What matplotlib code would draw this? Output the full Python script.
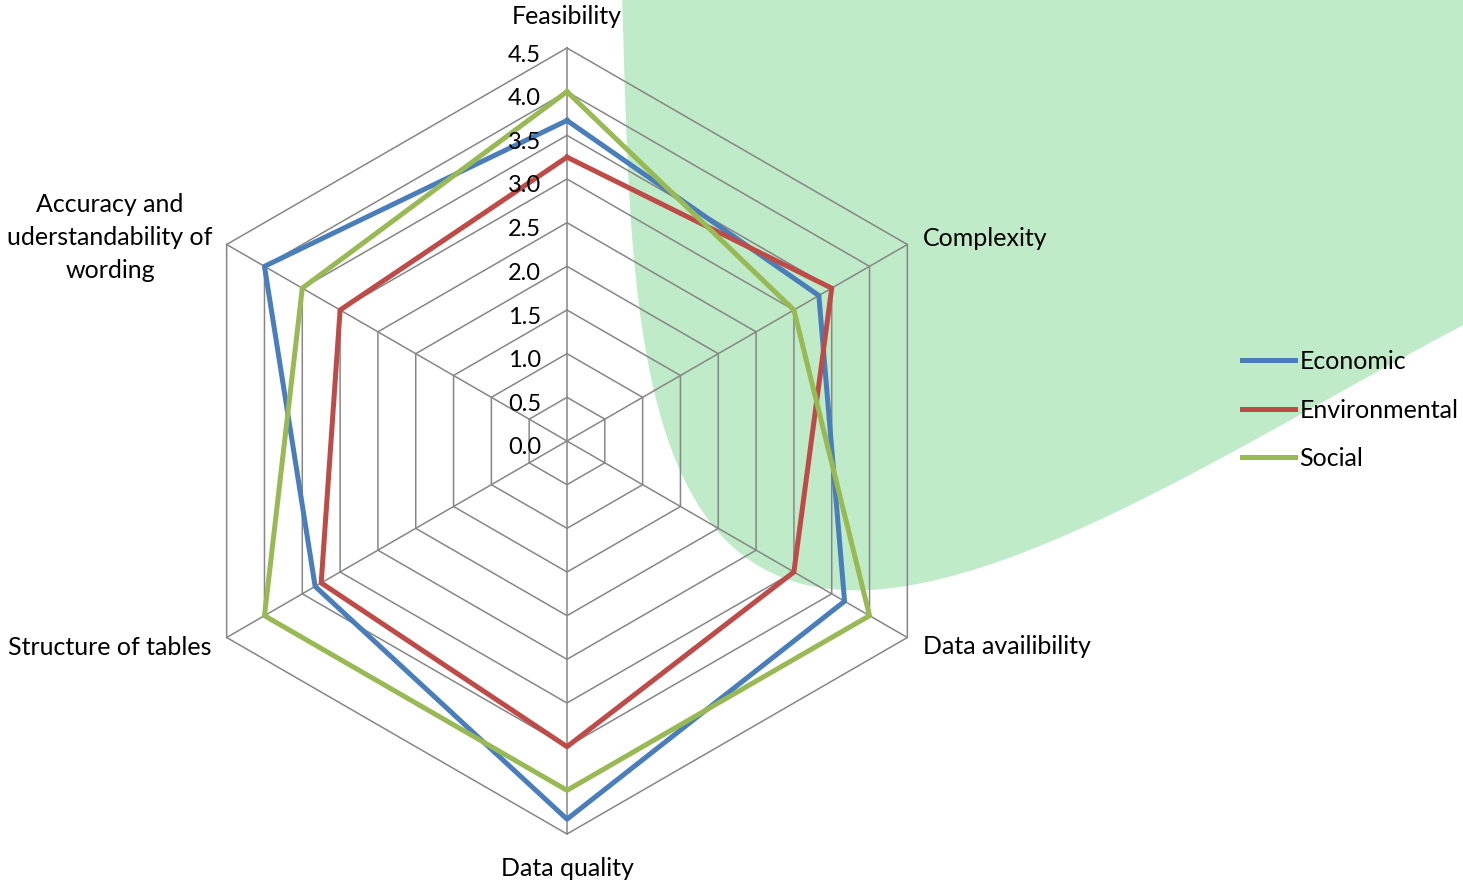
import numpy as np
import matplotlib
matplotlib.use("Agg")
from matplotlib import pyplot as plt
from matplotlib.patches import Polygon
from matplotlib.transforms import IdentityTransform, ScaledTranslation

plt.rcParams['font.family'] = ['Lato', 'DejaVu Sans']

categories = ['Feasibility', 'Complexity', 'Data availibility', 'Data quality',
              'Structure of tables', 'Accuracy and\nuderstandability of\nwording']
economic = [3.67, 3.33, 3.67, 4.33, 3.33, 4.0]
environmental = [3.25, 3.5, 3.0, 3.5, 3.25, 3.0]
social = [4.0, 3.0, 4.0, 4.0, 4.0, 3.5]
ring_values = [0.0, 0.5, 1.0, 1.5, 2.0, 2.5, 3.0, 3.5, 4.0, 4.5]
series_names = ['Economic', 'Environmental', 'Social']
series_colors = ['#4a7ebb', '#be4b48', '#98b954']

W, H = 1463, 886
fig = plt.figure(figsize=(W / 100, H / 100), dpi=100)

# green backdrop blob in the upper right: rough outline (pixels from top-left),
# smoothed with a quartic in a frame tilted along the blob's corner
outline = np.array([(622, 0), (624, 100), (630, 200), (640, 300), (658, 400), (674, 450),
                    (703, 500), (720, 533), (743, 570), (770, 587), (803, 593), (850, 585),
                    (950, 567), (1050, 535), (1150, 492), (1250, 446), (1300, 423),
                    (1400, 363), (1463, 318)], float)
c, s = np.cos(np.radians(30.7)), np.sin(np.radians(30.7))
ot = c * outline[:, 0] + s * outline[:, 1]
os_ = s * outline[:, 0] - c * outline[:, 1]
coef = np.polyfit(ot, os_, 4)
tt = np.linspace(515, 1450, 300)
ss = np.polyval(coef, tt)
bx = c * tt + s * ss
by = s * tt - c * ss
edge = np.column_stack([bx, H - by])
edge = np.vstack([edge, [(1700, H - 250), (1700, H + 200), (560, H + 200)]])
fig.patches.append(Polygon(edge, closed=True, transform=IdentityTransform(),
                           facecolor='#bfebc9', edgecolor='none', zorder=-1))

ax = fig.add_axes([174 / W, 52 / H, 786 / W, 786 / H], projection='polar')
ax.set_theta_zero_location('N')
ax.set_theta_direction(-1)
ax.set_ylim(0, 4.5)
ax.grid(False)
ax.set_xticks([])
ax.set_yticks([])
ax.spines['polar'].set_visible(False)
ax.patch.set_alpha(0)

n = len(categories)
theta = np.linspace(0, 2 * np.pi, n, endpoint=False)
closed = np.append(theta, theta[0])

# hexagon rings and spokes
for r in ring_values[1:]:
    ax.plot(closed, [r] * (n + 1), color='#868686', lw=1.1, clip_on=False, zorder=1)
for t in theta:
    ax.plot([t, t], [0, ring_values[-1]], color='#868686', lw=1.1, clip_on=False, zorder=1)

lines = []
for vals, name, col in zip([economic, environmental, social], series_names, series_colors):
    ln, = ax.plot(closed, vals + vals[:1], color=col, lw=3.6, label=name, clip_on=False, zorder=3)
    lines.append(ln)

# value labels along the top spoke
for r in ring_values:
    ax.text(0, r, '%.1f' % r, ha='right', va='center', fontsize=17,
            transform=ax.transData + ScaledTranslation(-0.26, -0.07, fig.dpi_scale_trans))

# category labels: (dx, dy) in pixels and alignment
label_pos = [(0, 32, 'center'), (16, 6.5, 'left'), (16, -9.5, 'left'),
             (0, -35, 'center'), (-15, -9.5, 'right'), (-14, 7, 'right')]
for t, lab, (dx, dy, ha) in zip(theta, categories, label_pos):
    ax.text(t, ring_values[-1], lab, ha=ha, va='center', multialignment='center',
            fontsize=18, linespacing=1.55,
            transform=ax.transData + ScaledTranslation(dx / 100, dy / 100, fig.dpi_scale_trans))

fig.legend(handles=lines, loc='center left', bbox_to_anchor=(1242 / W, (H - 410) / H),
           frameon=False, fontsize=18, handlelength=2.1, handletextpad=0.2,
           labelspacing=1.02, borderpad=0, borderaxespad=0)

fig.savefig('out.png', dpi=100)
